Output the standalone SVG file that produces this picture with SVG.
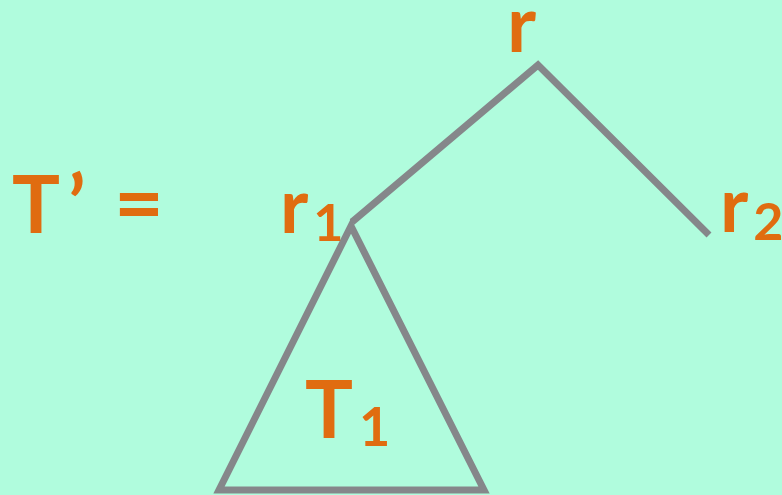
<svg xmlns="http://www.w3.org/2000/svg" width="782" height="495" viewBox="0 0 782 495">
<style>
.t{font-family:Lato,"Liberation Sans",sans-serif;font-weight:bold;fill:#E06C10}
.e{stroke:#85878A;stroke-width:7;fill:none;stroke-linejoin:miter}
</style>
<rect width="782" height="495" fill="#B0FCDD"/>
<g id="connectors">
<polyline class="e" points="352,222 538,65 709,235"/>
</g>
<g id="T1">
<polygon class="e" points="351,226 219,490 484,490"/>
<text class="t" x="305" y="438" font-size="80">T<tspan font-size="54" dx="6" dy="8">1</tspan></text>
</g>
<g id="label">
<text class="t" y="233" font-size="80"><tspan x="12">T</tspan><tspan x="68">’</tspan><tspan x="114" font-size="86">=</tspan></text>
</g>
<g id="r">
<text class="t" x="507" y="52" font-size="78">r</text>
</g>
<g id="r1">
<text class="t" x="280" y="233" font-size="76">r<tspan font-size="52" dx="5" dy="8">1</tspan></text>
</g>
<g id="r2">
<text class="t" x="720" y="232" font-size="76">r<tspan font-size="52" dx="5" dy="8">2</tspan></text>
</g>
</svg>
